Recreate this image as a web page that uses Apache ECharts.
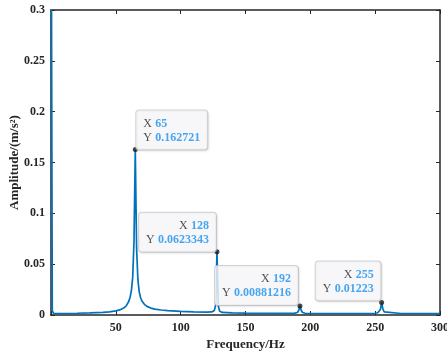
<!DOCTYPE html>
<html>
<head>
<meta charset="utf-8">
<script src="https://cdn.jsdelivr.net/npm/echarts@6/dist/echarts.min.js"></script>
<style>html,body{margin:0;padding:0;background:#fff}#c{width:447px;height:355px}</style>
</head>
<body>
<div id="c"></div>
<script>
var freq = [0, 1, 2, 5, 10, 20, 30, 40, 45, 50, 53, 56, 58, 59, 60, 61, 62, 63, 64, 65, 66, 67, 68, 69, 70, 72, 74, 77, 80, 85, 90, 100, 110, 120, 124, 126, 127, 128, 129, 130, 132, 140, 150, 160, 170, 180, 188, 190, 191, 192, 193, 194, 196, 210, 230, 245, 250, 252, 253, 254, 255, 256, 257, 258, 270, 285, 300];
var amp = [0.5, 0.004, 0.0015, 0.0015, 0.0015, 0.0017, 0.002, 0.0025, 0.003, 0.004, 0.005, 0.0068, 0.009, 0.0108, 0.0135, 0.0175, 0.024, 0.037, 0.072, 0.162721, 0.066, 0.035, 0.023, 0.0175, 0.014, 0.0105, 0.0085, 0.0068, 0.0058, 0.0049, 0.0043, 0.0036, 0.0031, 0.0029, 0.003, 0.0045, 0.01, 0.0623343, 0.009, 0.004, 0.0025, 0.002, 0.0018, 0.0017, 0.0016, 0.0016, 0.0018, 0.0025, 0.0045, 0.00881216, 0.0045, 0.0025, 0.0017, 0.0015, 0.0015, 0.0015, 0.0017, 0.0022, 0.003, 0.0055, 0.01223, 0.0055, 0.003, 0.002, 0.0015, 0.0015, 0.0015];
var tipX = [65, 128, 192, 255];
var tipY = [0.162721, 0.0623343, 0.00881216, 0.01223];
var tipXText = ['65', '128', '192', '255'];
var tipYText = ['0.162721', '0.0623343', '0.00881216', '0.01223'];

var FONT = '"Liberation Serif", "Times New Roman", serif';
var AX = '#262626';
var tipAlign = ['left', 'right', 'right', 'right'];
var tipOffset = [[1, 0], [-1, 0], [-2, -1], [-1, -2]];

var lineData = freq.map(function (f, i) { return [f, amp[i]]; });
var tipData = tipX.map(function (x, i) {
  return {
    value: [x, tipY[i]],
    label: {
      show: true,
      position: [2.5, 2.5],
      align: tipAlign[i],
      verticalAlign: 'bottom',
      offset: tipOffset[i],
      formatter: '{k|X} {v|' + tipXText[i] + '}\n{k|Y} {v|' + tipYText[i] + '}'
    }
  };
});

var chart = echarts.init(document.getElementById('c'));
var axisCommon = {
  type: 'value', min: 0, max: 300, interval: 50,
  axisLine: { show: true, onZero: false, lineStyle: { color: AX, width: 1.5 } },
  axisTick: { show: true, inside: true, length: 4, lineStyle: { color: AX, width: 1 } },
  splitLine: { show: false }
};
chart.setOption({
  animation: false,
  grid: { left: 51, right: 7, top: 10, bottom: 40, containLabel: false, outerBoundsMode: 'none' },
  xAxis: [
    Object.assign({}, axisCommon, {
      position: 'bottom',
      name: 'Frequency/Hz', nameLocation: 'middle', nameGap: 23, nameMoveOverlap: false,
      nameTextStyle: { fontFamily: FONT, fontWeight: 'bold', fontSize: 13, color: AX },
      axisLabel: { margin: 7, fontFamily: FONT, fontWeight: 'bold', fontSize: 12, color: AX,
        formatter: function (v) { return v === 0 ? '' : String(v); } }
    }),
    Object.assign({}, axisCommon, { position: 'top', axisLabel: { show: false } })
  ],
  yAxis: [
    {
      type: 'value', min: 0, max: 0.3, interval: 0.05, position: 'left',
      name: 'Amplitude/(m/s²)', nameLocation: 'middle', nameGap: 30, nameMoveOverlap: false,
      nameTextStyle: { fontFamily: FONT, fontWeight: 'bold', fontSize: 13, color: AX },
      axisLine: { show: true, onZero: false, lineStyle: { color: AX, width: 1.5 } },
      axisTick: { show: true, inside: true, length: 4, lineStyle: { color: AX, width: 1 } },
      axisLabel: { margin: 6, fontFamily: FONT, fontWeight: 'bold', fontSize: 12, color: AX,
        formatter: function (v) { return String(+v.toFixed(2)); } },
      splitLine: { show: false }
    },
    {
      type: 'value', min: 0, max: 0.3, interval: 0.05, position: 'right',
      axisLine: { show: true, onZero: false, lineStyle: { color: AX, width: 1.5 } },
      axisTick: { show: true, inside: true, length: 4, lineStyle: { color: AX, width: 1 } },
      axisLabel: { show: false }, splitLine: { show: false }
    }
  ],
  series: [
    {
      type: 'line', data: lineData, showSymbol: false, clip: true,
      lineStyle: { color: '#0072BD', width: 1.7 }, z: 3
    },
    {
      type: 'scatter', data: tipData, symbolSize: 5, z: 5,
      itemStyle: { color: '#1a1a1a' },
      label: {
        backgroundColor: '#fafafc', borderColor: '#c8c8c8', borderWidth: 1, borderRadius: 3,
        padding: [6, 7, 5, 7],
        shadowColor: 'rgba(0,0,0,0.10)', shadowBlur: 2, shadowOffsetX: 1, shadowOffsetY: 1,
        rich: {
          k: { fontFamily: FONT, fontSize: 12, color: '#262626', lineHeight: 14 },
          v: { fontFamily: FONT, fontSize: 12, fontWeight: 'bold', color: '#1a90ee', lineHeight: 14 }
        }
      }
    }
  ]
});
</script>
</body>
</html>
